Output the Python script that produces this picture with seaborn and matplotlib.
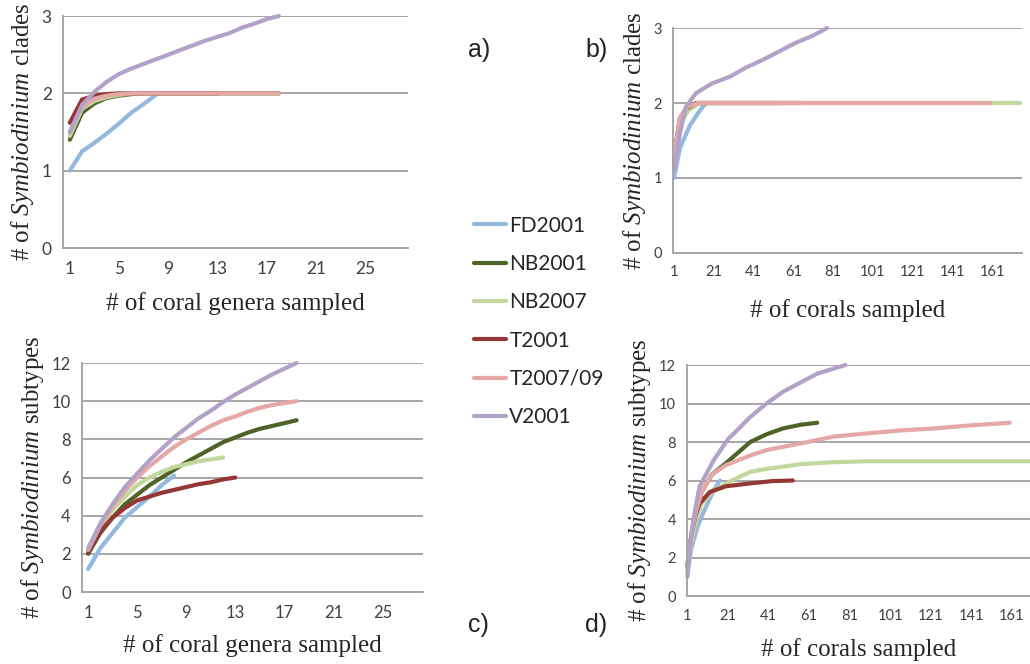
import matplotlib
matplotlib.use("Agg")
import matplotlib.pyplot as plt
import numpy as np
import pandas as pd
import seaborn as sns

sites = ["FD2001", "NB2001", "NB2007", "T2001", "T2007/09", "V2001"]
colors = ["#95b8de", "#4f6228", "#c3d69b", "#953735", "#e6a8a6", "#b3a2c7"]

# a) clades vs coral genera sampled (x = 1, 2, 3, ...)
clades_genera = {
    "FD2001": [1.0, 1.25, 1.36, 1.48, 1.61, 1.75, 1.86, 1.98],
    "NB2001": [1.4, 1.75, 1.87, 1.94, 1.97, 1.99, 2.0, 2.0, 2.0, 2.0, 2.0, 2.0,
               2.0, 2.0, 2.0, 2.0, 2.0, 2.0],
    "NB2007": [1.45, 1.8, 1.9, 1.95, 1.98, 2.0, 2.0, 2.0, 2.0, 2.0, 2.0, 2.0],
    "T2001": [1.62, 1.92, 1.97, 1.99, 2.0, 2.0, 2.0, 2.0, 2.0, 2.0, 2.0, 2.0, 2.0],
    "T2007/09": [1.5, 1.82, 1.93, 1.97, 1.99, 2.0, 2.0, 2.0, 2.0, 2.0, 2.0, 2.0,
                 2.0, 2.0, 2.0, 2.0, 2.0, 2.0],
    "V2001": [1.5, 1.85, 2.02, 2.15, 2.25, 2.32, 2.38, 2.44, 2.5, 2.56, 2.62,
              2.68, 2.73, 2.78, 2.85, 2.9, 2.96, 3.0],
}

# c) subtypes vs coral genera sampled
subtypes_genera = {
    "FD2001": [1.2, 2.3, 3.1, 3.9, 4.45, 5.0, 5.6, 6.1],
    "NB2001": [2.0, 3.1, 3.9, 4.6, 5.1, 5.6, 6.0, 6.4, 6.8, 7.15, 7.5, 7.85,
               8.1, 8.35, 8.55, 8.7, 8.85, 9.0],
    "NB2007": [2.2, 3.4, 4.3, 5.0, 5.6, 6.0, 6.3, 6.55, 6.7, 6.85, 6.95, 7.05],
    "T2001": [2.1, 3.2, 3.9, 4.4, 4.8, 5.0, 5.2, 5.35, 5.5, 5.65, 5.75, 5.9, 6.0],
    "T2007/09": [2.2, 3.5, 4.5, 5.3, 6.0, 6.6, 7.1, 7.6, 8.0, 8.35, 8.7, 9.0,
                 9.2, 9.45, 9.65, 9.8, 9.9, 10.0],
    "V2001": [2.3, 3.6, 4.6, 5.5, 6.2, 6.9, 7.5, 8.1, 8.6, 9.1, 9.5, 9.95,
              10.35, 10.7, 11.05, 11.4, 11.7, 12.0],
}

# b) clades vs corals sampled, read at selected x positions
clades_corals_x = {
    "FD2001": [1, 4, 9, 14, 17],
    "NB2001": [1, 4, 7, 10, 14, 65],
    "NB2007": [1, 4, 8, 14, 175],
    "T2001": [1, 4, 7, 12, 53],
    "T2007/09": [1, 4, 8, 13, 160],
    "V2001": [1, 4, 7, 12, 20, 29, 37, 46, 54, 62, 71, 78],
}
clades_corals_y = {
    "FD2001": [1.0, 1.4, 1.7, 1.9, 2.0],
    "NB2001": [1.2, 1.75, 1.9, 1.97, 2.0, 2.0],
    "NB2007": [1.2, 1.7, 1.9, 2.0, 2.0],
    "T2001": [1.3, 1.8, 1.92, 2.0, 2.0],
    "T2007/09": [1.3, 1.8, 1.95, 2.0, 2.0],
    "V2001": [1.1, 1.6, 1.95, 2.13, 2.26, 2.35, 2.47, 2.58, 2.69, 2.8, 2.9, 3.0],
}

# d) subtypes vs corals sampled, read at selected x positions
subtypes_corals_x = {
    "FD2001": [1, 3, 6, 10, 14, 17],
    "NB2001": [1, 3, 5, 8, 13, 20, 32, 40, 48, 57, 65],
    "NB2007": [1, 3, 5, 8, 13, 20, 32, 40, 57, 73, 90, 106, 175],
    "T2001": [1, 3, 5, 7, 12, 20, 32, 43, 53],
    "T2007/09": [1, 3, 5, 8, 13, 20, 32, 40, 57, 73, 90, 106, 122, 139, 160],
    "V2001": [1, 3, 5, 7, 14, 21, 24, 32, 40, 48, 57, 65, 79],
}
subtypes_corals_y = {
    "FD2001": [1.2, 2.5, 3.6, 4.6, 5.5, 6.0],
    "NB2001": [1.5, 3.2, 4.3, 5.4, 6.3, 6.9, 8.0, 8.4, 8.7, 8.9, 9.0],
    "NB2007": [1.3, 2.8, 3.8, 4.8, 5.4, 5.85, 6.45, 6.6, 6.85, 6.95, 7.0, 7.0, 7.0],
    "T2001": [1.6, 3.2, 4.2, 4.8, 5.4, 5.7, 5.85, 5.97, 6.0],
    "T2007/09": [1.5, 3.2, 4.3, 5.4, 6.3, 6.8, 7.3, 7.58, 7.93, 8.28, 8.45,
                 8.6, 8.7, 8.85, 9.0],
    "V2001": [1.0, 3.3, 4.6, 5.7, 7.06, 8.15, 8.45, 9.3, 10.0, 10.6, 11.1,
              11.55, 12.0],
}


def long_from_lists(ys):
    frames = []
    for s in sites:
        frames.append(pd.DataFrame({"x": np.arange(1, len(ys[s]) + 1),
                                    "y": ys[s], "site": s}))
    return pd.concat(frames, ignore_index=True)


def long_from_pairs(xs, ys):
    frames = []
    for s in sites:
        frames.append(pd.DataFrame({"x": xs[s], "y": ys[s], "site": s}))
    return pd.concat(frames, ignore_index=True)


def style_axis(ax, ylim, yticks, xlim, xticks, tick_size, xlabel, ylabel_kind,
               xpad):
    ax.set_xlim(*xlim)
    ax.set_ylim(*ylim)
    ax.set_yticks(yticks)
    ax.set_xticks(xticks)
    ax.grid(axis="y", color="#a6a6a6", lw=1.4)
    ax.grid(axis="x", visible=False)
    ax.set_axisbelow(True)
    for side in ["top", "right"]:
        ax.spines[side].set_visible(False)
    for side in ["left", "bottom"]:
        ax.spines[side].set_color("#a6a6a6")
        ax.spines[side].set_linewidth(1.4)
    ax.tick_params(axis="y", length=4, color="#a6a6a6", labelsize=tick_size,
                   labelcolor="#404040", pad=4)
    ax.tick_params(axis="x", length=0, labelsize=tick_size,
                   labelcolor="#404040", pad=9)
    for lab in ax.get_xticklabels() + ax.get_yticklabels():
        lab.set_family("Lato")
    ax.set_xlabel(xlabel, family="Liberation Serif", fontsize=18, labelpad=xpad)
    ax.set_ylabel("# of $\\it{Symbiodinium}$ " + ylabel_kind,
                  family="Liberation Serif", fontsize=18, labelpad=4)


sns.set_style("white")
plt.rcParams["mathtext.fontset"] = "custom"
plt.rcParams["mathtext.it"] = "Liberation Serif:italic"
plt.rcParams["mathtext.rm"] = "Liberation Serif"

fig = plt.figure(figsize=(10.3, 6.64), dpi=100)
ax_a = fig.add_axes([0.0612, 0.6265, 0.335, 0.3494])
ax_b = fig.add_axes([0.6534, 0.619, 0.3388, 0.3388])
ax_c = fig.add_axes([0.0796, 0.1084, 0.331, 0.3449])
ax_d = fig.add_axes([0.667, 0.1024, 0.333, 0.3479])

palette = dict(zip(sites, colors))
panels = [
    (ax_a, long_from_lists(clades_genera)),
    (ax_b, long_from_pairs(clades_corals_x, clades_corals_y)),
    (ax_c, long_from_lists(subtypes_genera)),
    (ax_d, long_from_pairs(subtypes_corals_x, subtypes_corals_y)),
]
for ax, df in panels:
    sns.lineplot(data=df, x="x", y="y", hue="site", hue_order=sites,
                 palette=palette, lw=3.0, ax=ax, legend=(ax is ax_a),
                 clip_on=False)

handles, labels = ax_a.get_legend_handles_labels()
ax_a.get_legend().remove()

style_axis(ax_a, (0, 3), [0, 1, 2, 3], (0.45, 28.5), list(range(1, 27, 4)),
           12.5, "# of coral genera sampled", "clades", 11)
style_axis(ax_b, (0, 3), [0, 1, 2, 3], (0.5, 176), list(range(1, 162, 20)),
           10.5, "# of corals sampled", "clades", 14)
style_axis(ax_c, (0, 12), list(range(0, 13, 2)), (0.5, 28.3),
           list(range(1, 27, 4)), 12, "# of coral genera sampled", "subtypes", 10)
style_axis(ax_d, (0, 12), list(range(0, 13, 2)), (0.8, 170),
           list(range(1, 162, 20)), 10.5, "# of corals sampled", "subtypes", 11)

fig.legend(handles, labels, loc="upper left", bbox_to_anchor=(0.452, 0.688),
           frameon=False, prop={"family": "Lato", "size": 15},
           handlelength=1.55, handletextpad=0.15, labelspacing=0.88,
           borderaxespad=0)

for lab, x, y in [("a)", 0.454, 0.925), ("b)", 0.568, 0.925),
                  ("c)", 0.454, 0.059), ("d)", 0.568, 0.059)]:
    fig.text(x, y, lab, family="Liberation Sans", fontsize=18,
             color="#222222", va="center")

fig.savefig("out.png", dpi=100)
